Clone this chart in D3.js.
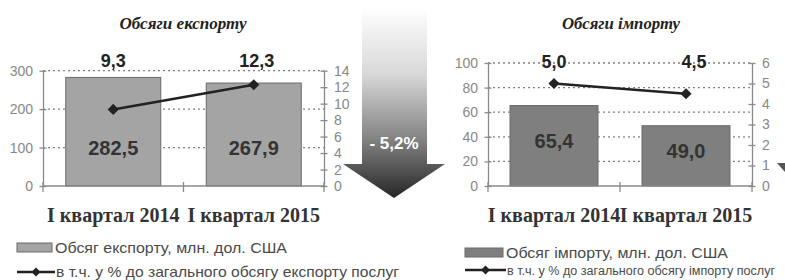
<!DOCTYPE html>
<html>
<head>
<meta charset="utf-8">
<script src="https://cdn.jsdelivr.net/npm/d3@7/dist/d3.min.js"></script>
<style>
  html, body { margin: 0; padding: 0; background: #fff; overflow: hidden; }
  svg { display: block; }
</style>
</head>
<body>
<svg id="chart" width="785" height="280"></svg>
<script>
// ---- data ----
const categories = ["I квартал 2014", "I квартал 2015"];
const exportVolume = [282.5, 267.9];
const exportShare = [9.3, 12.3];
const importVolume = [65.4, 49.0];
const importShare = [5.0, 4.5];
const exportLeftTicks = [0, 100, 200, 300];
const exportRightTicks = [0, 2, 4, 6, 8, 10, 12, 14];
const importLeftTicks = [0, 20, 40, 60, 80, 100];
const importRightTicks = [0, 1, 2, 3, 4, 5, 6];
const exportTitle = "Обсяги експорту";
const importTitle = "Обсяги імпорту";
const exportBarLegend = "Обсяг експорту, млн. дол. США";
const importBarLegend = "Обсяг імпорту, млн. дол. США";
const exportLineLegend = "в т.ч. у % до загального обсягу експорту послуг";
const importLineLegend = "в т.ч. у % до загального обсягу імпорту послуг";
const changeLabel = "- 5,2%";

const fmt = v => d3.format(".1f")(v).replace(".", ",");
const svg = d3.select("#chart");

// ---- central arrow ----
const defs = svg.append("defs");
const grad = defs.append("linearGradient").attr("id", "arrowGrad")
  .attr("gradientUnits", "userSpaceOnUse")
  .attr("x1", 0).attr("y1", 8).attr("x2", 0).attr("y2", 198);
grad.append("stop").attr("offset", 0).attr("stop-color", "#ffffff");
grad.append("stop").attr("offset", 0.35).attr("stop-color", "#d8d8d8");
grad.append("stop").attr("offset", 0.7).attr("stop-color", "#808080");
grad.append("stop").attr("offset", 1).attr("stop-color", "#262626");
svg.append("polygon")
  .attr("points", "362,8 427,8 427,164 445,164 394,198 343,164 362,164")
  .attr("fill", "url(#arrowGrad)");
svg.append("text").attr("x", 394).attr("y", 149)
  .attr("text-anchor", "middle")
  .attr("font-family", "Liberation Sans, Arial, sans-serif")
  .attr("font-weight", "bold").attr("font-size", 17)
  .attr("fill", "#ffffff").text(changeLabel);
// small stray arrow piece at right edge
svg.append("polygon").attr("points", "777,163 785,163 785,172").attr("fill", "#555");

function drawChart(cfg) {
  const g = svg.append("g");
  const x = d3.scaleBand().domain(categories).range([cfg.xL, cfg.xR]).padding(0);
  const yL = d3.scaleLinear().domain([0, cfg.leftMax]).range([cfg.y0, cfg.yTop]);
  const yR = d3.scaleLinear().domain([0, cfg.rightMax]).range([cfg.y0, cfg.yTop]);

  // gridlines
  g.selectAll("line.grid").data(cfg.leftTicks.filter(d => d > 0)).join("line")
    .attr("class", "grid")
    .attr("x1", cfg.xL).attr("x2", cfg.xR)
    .attr("y1", d => yL(d)).attr("y2", d => yL(d))
    .attr("stroke", "#808080").attr("stroke-width", 1.3)
    .attr("stroke-dasharray", "2,3");

  // bars
  g.selectAll("rect.bar").data(cfg.volume).join("rect")
    .attr("class", "bar")
    .attr("x", (d, i) => x(categories[i]) + x.bandwidth() / 2 - cfg.barWidth / 2)
    .attr("width", cfg.barWidth)
    .attr("y", d => yL(d))
    .attr("height", d => cfg.y0 - yL(d))
    .attr("fill", cfg.barFill).attr("stroke", "#6a6a6a").attr("stroke-width", 1);

  // bar labels
  g.selectAll("text.barlab").data(cfg.volume).join("text")
    .attr("class", "barlab")
    .attr("x", (d, i) => x(categories[i]) + x.bandwidth() / 2)
    .attr("y", d => cfg.barLabelY(d, yL))
    .attr("text-anchor", "middle")
    .attr("font-family", "Liberation Sans, Arial, sans-serif")
    .attr("font-weight", "bold").attr("font-size", 20)
    .attr("fill", "#333").text(d => fmt(d));

  // axes
  const axL = d3.axisLeft(yL).tickValues(cfg.leftTicks).tickFormat(d3.format("d"))
    .tickSize(3).tickSizeOuter(0).tickPadding(7);
  const gL = g.append("g").attr("transform", `translate(${cfg.xL},0)`).call(axL);
  const axR = d3.axisRight(yR).tickValues(cfg.rightTicks).tickFormat(d3.format("d"))
    .tickSize(3).tickSizeOuter(0).tickPadding(7);
  const gR = g.append("g").attr("transform", `translate(${cfg.xR},0)`).call(axR);
  [gL, gR].forEach(ax => {
    ax.select(".domain").attr("stroke", "#8a8a8a").attr("stroke-width", 1.3);
    ax.selectAll(".tick line").attr("x1", -3.5).attr("x2", 3.5)
      .attr("stroke", "#8a8a8a").attr("stroke-width", 1.3);
    ax.selectAll(".tick text").attr("font-family", "Liberation Sans, Arial, sans-serif")
      .attr("font-size", 14).attr("fill", "#888");
  });
  // x axis baseline
  g.append("line").attr("x1", cfg.xL).attr("x2", cfg.xR)
    .attr("y1", cfg.y0).attr("y2", cfg.y0)
    .attr("stroke", "#8a8a8a").attr("stroke-width", 1.3);
  // category boundary ticks
  const bounds = [cfg.xL, x(categories[1]), cfg.xR];
  g.selectAll("line.ctick").data(bounds).join("line")
    .attr("class", "ctick")
    .attr("x1", d => d).attr("x2", d => d)
    .attr("y1", cfg.y0 - 4).attr("y2", cfg.y0 + 6)
    .attr("stroke", "#8a8a8a").attr("stroke-width", 1.3);

  // category labels
  g.selectAll("text.cat").data(categories).join("text")
    .attr("class", "cat")
    .attr("x", d => x(d) + x.bandwidth() / 2)
    .attr("y", 222)
    .attr("text-anchor", "middle")
    .attr("font-family", "Liberation Serif, Times New Roman, serif")
    .attr("font-weight", "bold").attr("font-size", 20)
    .attr("fill", "#333").text(d => d);

  // line series
  const pts = cfg.share.map((v, i) => [x(categories[i]) + x.bandwidth() / 2, yR(v)]);
  g.append("path").attr("d", d3.line()(pts))
    .attr("fill", "none").attr("stroke", "#222").attr("stroke-width", 2.5);
  g.selectAll("path.mk").data(pts).join("path")
    .attr("class", "mk")
    .attr("d", d3.symbol(d3.symbolSquare, 62)())
    .attr("transform", d => `translate(${d[0]},${d[1]}) rotate(45)`)
    .attr("fill", "#222");
  g.selectAll("text.sharelab").data(cfg.share).join("text")
    .attr("class", "sharelab")
    .attr("x", (d, i) => x(categories[i]) + x.bandwidth() / 2 + (i === 1 ? cfg.lab2dx : 0))
    .attr("y", cfg.shareLabelY)
    .attr("text-anchor", "middle")
    .attr("font-family", "Liberation Sans, Arial, sans-serif")
    .attr("font-weight", "bold").attr("font-size", 18)
    .attr("fill", "#222").text(d => fmt(d));

  // title
  g.append("text").attr("x", cfg.titleX).attr("y", 29)
    .attr("text-anchor", "middle")
    .attr("font-family", "Liberation Serif, Times New Roman, serif")
    .attr("font-weight", "bold").attr("font-style", "italic").attr("font-size", 16)
    .attr("textLength", cfg.titleLen).attr("lengthAdjust", "spacingAndGlyphs")
    .attr("fill", "#222").text(cfg.title);

  // legend
  const lg = cfg.legend;
  g.append("rect").attr("x", lg.x).attr("y", lg.y).attr("width", lg.sw).attr("height", 9)
    .attr("fill", cfg.barFill).attr("stroke", "#6a6a6a");
  g.append("text").attr("x", lg.x + lg.sw + 3).attr("y", lg.y + 10)
    .attr("font-family", "Liberation Sans, Arial, sans-serif").attr("font-size", 15)
    .attr("textLength", lg.len1).attr("lengthAdjust", "spacingAndGlyphs")
    .attr("fill", "#4a4a4a").text(cfg.barLegend);
  const ly = lg.y + lg.dy;
  g.append("line").attr("x1", lg.x).attr("x2", lg.x + lg.sw + 3)
    .attr("y1", ly).attr("y2", ly).attr("stroke", "#222").attr("stroke-width", 2.5);
  g.append("path").attr("d", d3.symbol(d3.symbolSquare, 40)())
    .attr("transform", `translate(${lg.x + (lg.sw + 3) / 2},${ly}) rotate(45)`)
    .attr("fill", "#222");
  g.append("text").attr("x", lg.x + lg.sw + 4).attr("y", ly + 5)
    .attr("font-family", "Liberation Sans, Arial, sans-serif").attr("font-size", lg.fs2)
    .attr("textLength", lg.len2).attr("lengthAdjust", "spacingAndGlyphs")
    .attr("fill", "#4a4a4a").text(cfg.lineLegend);
}

drawChart({
  xL: 43, xR: 324, y0: 186, yTop: 70.7,
  leftMax: 300, rightMax: 14,
  leftTicks: exportLeftTicks, rightTicks: exportRightTicks,
  volume: exportVolume, share: exportShare,
  barWidth: 95, barFill: "#a4a4a4",
  barLabelY: (d, yL) => 155,
  shareLabelY: 67, lab2dx: 3,
  title: exportTitle, titleX: 183, titleLen: 127,
  barLegend: exportBarLegend, lineLegend: exportLineLegend,
  legend: { x: 17, y: 243, sw: 35, dy: 29, len1: 232, len2: 343, fs2: 15 }
});

drawChart({
  xL: 488, xR: 752, y0: 186, yTop: 63,
  leftMax: 100, rightMax: 6,
  leftTicks: importLeftTicks, rightTicks: importRightTicks,
  volume: importVolume, share: importShare,
  barWidth: 88, barFill: "#7f7f7f",
  barLabelY: (d, yL) => (yL(d) + 186) / 2 + 2,
  shareLabelY: 68, lab2dx: 8,
  title: importTitle, titleX: 621, titleLen: 118,
  barLegend: importBarLegend, lineLegend: importLineLegend,
  legend: { x: 465, y: 248, sw: 38, dy: 22, len1: 222, len2: 268, fs2: 12.5 }
});
</script>
</body>
</html>
